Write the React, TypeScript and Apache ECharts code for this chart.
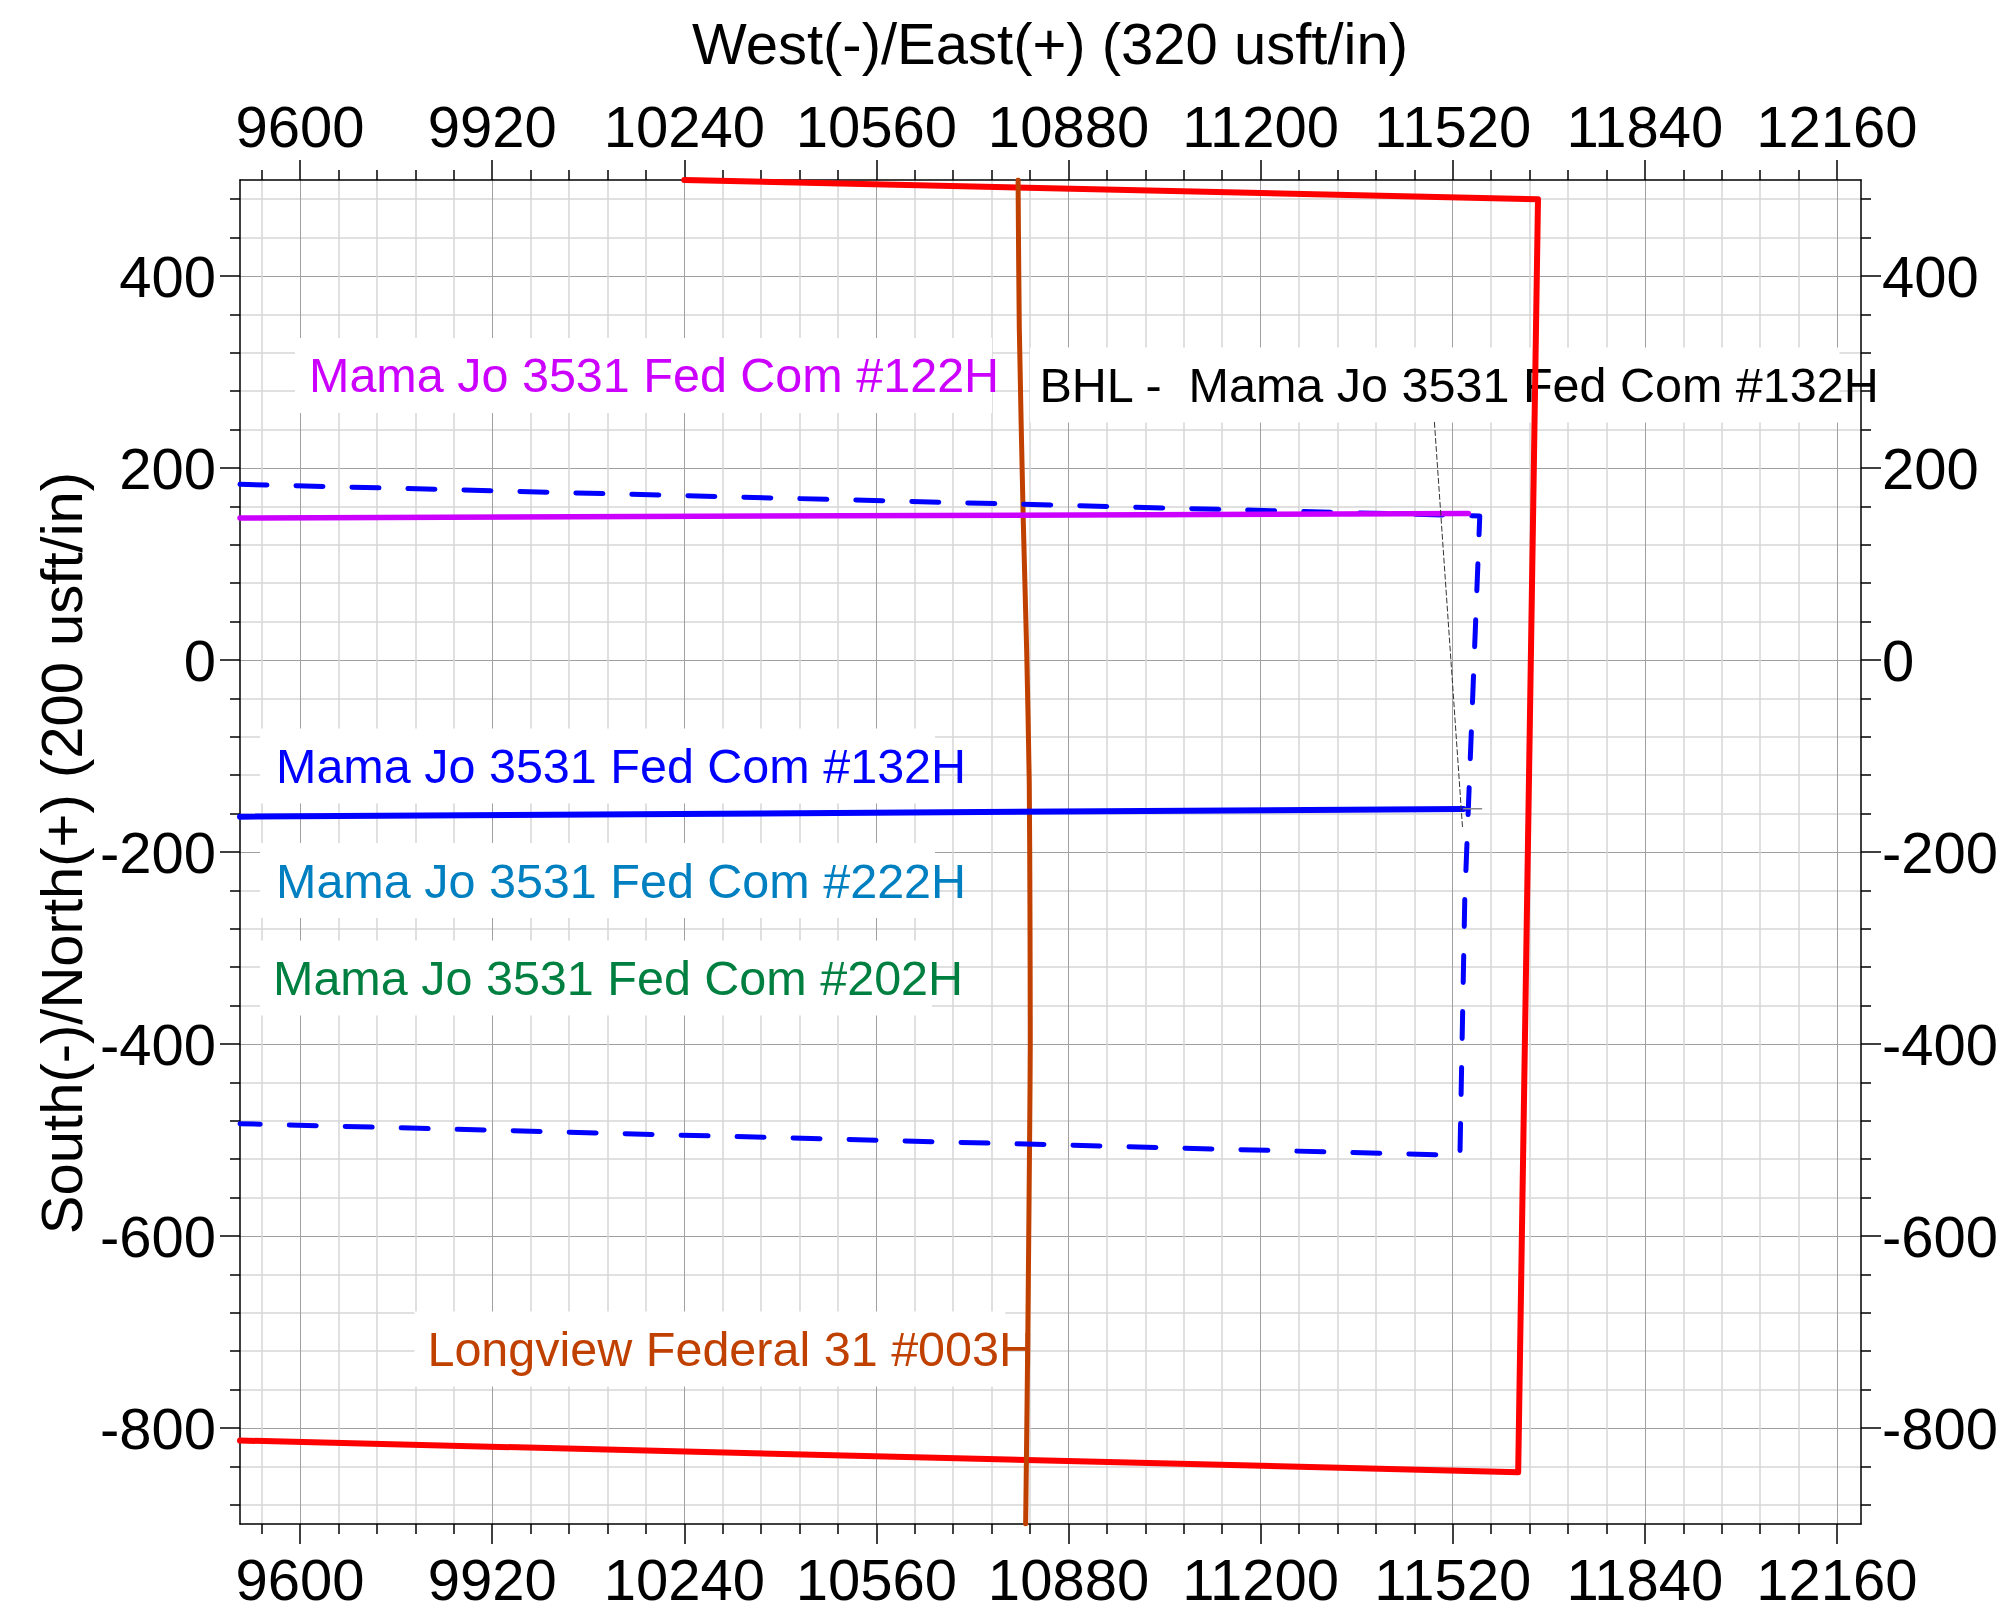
import React, { useEffect, useRef } from 'react';
import * as echarts from 'echarts';

// ---------- axis extents and ticks ----------
const X_MIN = 9500;
const X_MAX = 12200;
const Y_MIN = -900;
const Y_MAX = 500;
const xTickValues = [9600, 9920, 10240, 10560, 10880, 11200, 11520, 11840, 12160];
const yTickValues = [-800, -600, -400, -200, 0, 200, 400];
const X_MINOR_STEP = 64;
const Y_MINOR_STEP = 40;

// ---------- series (West/East, South/North) ----------
const leaseBoundary = [[10240, 500], [11662, 480], [11629, -846], [9500, -813]];
const unitBoundary = [[9500, 183], [11565, 150], [11540, -250], [11532, -516], [9500, -483]];
const well122H = [[9500, 147.9], [11546, 152.6]];
const well132H = [[9500, -163.2], [11538, -155.2]];
const longview003H = [
  [10796, 500], [10798, 347], [10804.6, 146], [10810.3, 10], [10814.6, -127],
  [10815.8, -263], [10816.3, -400], [10815.3, -491], [10812, -718], [10808.6, -900],
];
const bhlLeader = [[11489.5, 247.4], [11536.2, -174]];
const bhlMarker = [[11538, -155], [11568, -155]];

// ---------- annotation labels ----------
const labelTexts = [
  'Mama Jo 3531 Fed Com #122H',
  'BHL -  Mama Jo 3531 Fed Com #132H',
  'Mama Jo 3531 Fed Com #132H',
  'Mama Jo 3531 Fed Com #222H',
  'Mama Jo 3531 Fed Com #202H',
  'Longview Federal 31 #003H',
];
const labelAnchors = [
  [9591.6, 296.4],
  [10815.8, 286.5],
  [9533.3, -110.4],
  [9533.3, -229.7],
  [9533.3, -331.3],
  [9790.5, -717.7],
];

// styles
const labelColors = ['#CC00FF', '#000000', '#0000FF', '#0080C0', '#008040', '#C04000'];
const labelBoxWidths = [683, 800, 659, 659, 659, 578];
const labelPadLeft = [14, 9.5, 16, 16, 13, 13];

const FONT = "'Liberation Sans', Arial, Helvetica, sans-serif";

function minorTicks(min: number, max: number, step: number, majors: number[]) {
  const out: number[] = [];
  const start = Math.ceil(min / step);
  const end = Math.floor(max / step);
  for (let k = start; k <= end; k++) {
    const v = k * step;
    if (majors.indexOf(v) < 0) out.push(v);
  }
  return out;
}

const fmt = (v: number) => String(v);

function makeAxes(dim: 'x' | 'y') {
  const isX = dim === 'x';
  const min = isX ? X_MIN : Y_MIN;
  const max = isX ? X_MAX : Y_MAX;
  const majors = isX ? xTickValues : yTickValues;
  const minors = minorTicks(min, max, isX ? X_MINOR_STEP : Y_MINOR_STEP, majors);
  const pos1 = isX ? 'bottom' : 'left';
  const pos2 = isX ? 'top' : 'right';
  const labelStyle = {
    fontSize: 58,
    lineHeight: 58,
    fontFamily: FONT,
    color: '#000',
    formatter: fmt,
    customValues: majors,
  };
  const minorAxis = (position: string, grid: boolean) => ({
    type: 'value',
    gridIndex: 0,
    position,
    min,
    max,
    axisLine: { show: false, onZero: false },
    axisTick: { show: true, customValues: minors, length: 10, lineStyle: { color: '#000', width: 1.5 } },
    axisLabel: { show: false },
    splitLine: { show: grid, lineStyle: { color: '#d6d6d6', width: 1.5 } },
  });
  const majorAxis = (position: string, grid: boolean, margin: number) => ({
    type: 'value',
    gridIndex: 0,
    position,
    min,
    max,
    axisLine: { show: true, onZero: false, lineStyle: { color: '#000', width: 1.5 } },
    axisTick: { show: true, customValues: majors, length: 20, lineStyle: { color: '#000', width: 1.5 } },
    axisLabel: { show: true, margin, ...labelStyle },
    splitLine: { show: grid, lineStyle: { color: '#a0a0a0', width: 1 } },
  });
  return [
    minorAxis(pos1, true),
    minorAxis(pos2, false),
    majorAxis(pos1, true, isX ? 26 : 24),
    majorAxis(pos2, false, isX ? 25 : 21),
  ];
}

function lineSeries(data: number[][], color: string, width: number, type: any = 'solid', extra: any = {}) {
  return {
    type: 'line',
    xAxisIndex: 2,
    yAxisIndex: 2,
    data,
    showSymbol: false,
    symbol: 'none',
    clip: true,
    silent: true,
    z: 2,
    lineStyle: { color, width, type, cap: 'round', join: 'round', opacity: 1 },
    ...extra,
  };
}

export default function App() {
  const ref = useRef<HTMLDivElement>(null);

  useEffect(() => {
    if (!ref.current) return;
    const chart = echarts.init(ref.current, undefined, { renderer: 'svg' });

    const labelData = labelAnchors.map((p, i) => ({
      name: labelTexts[i],
      value: p,
      label: {
        color: labelColors[i],
        padding: [13, 0, 12, labelPadLeft[i]],
        width: labelBoxWidths[i],
      },
    }));

    const option: any = {
      animation: false,
      backgroundColor: '#fff',
      grid: {
        left: 240,
        top: 180,
        width: 1621,
        height: 1344,
        containLabel: false,
        outerBoundsMode: 'none',
      },
      xAxis: makeAxes('x'),
      yAxis: makeAxes('y'),
      graphic: [
        {
          type: 'text',
          x: 1050,
          y: 43,
          style: {
            text: 'West(-)/East(+) (320 usft/in)',
            fontSize: 58,
            fontFamily: FONT,
            fill: '#000',
            align: 'center',
            verticalAlign: 'middle',
          },
        },
        {
          type: 'text',
          x: 61,
          y: 853,
          rotation: Math.PI / 2,
          style: {
            text: 'South(-)/North(+) (200 usft/in)',
            fontSize: 58,
            fontFamily: FONT,
            fill: '#000',
            align: 'center',
            verticalAlign: 'middle',
          },
        },
      ],
      series: [
        {
          type: 'scatter',
          xAxisIndex: 2,
          yAxisIndex: 2,
          z: 1,
          silent: true,
          symbolSize: 0,
          itemStyle: { color: 'rgba(0,0,0,0)', opacity: 1 },
          data: labelData,
          label: {
            show: true,
            position: 'right',
            distance: 0,
            formatter: '{b}',
            fontSize: 48.5,
            lineHeight: 50,
            fontFamily: FONT,
            backgroundColor: '#ffffff',
            overflow: 'none',
            align: 'left',
            opacity: 1,
          },
        },
        lineSeries(leaseBoundary, '#FF0000', 6),
        lineSeries(longview003H, '#C04000', 5, 'solid', { smooth: 0.2 }),
        lineSeries(unitBoundary, '#0000FF', 5, [27, 29]),
        lineSeries(well122H, '#CC00FF', 5.5),
        lineSeries(well132H, '#0000FF', 6),
        lineSeries(bhlLeader, '#333333', 1, [5, 3]),
        lineSeries(bhlMarker, '#888888', 1.5),
      ],
    };

    chart.setOption(option);
    return () => chart.dispose();
  }, []);

  return (
    <div
      ref={ref}
      style={{ position: 'fixed', left: 0, top: 0, width: 1998, height: 1621, background: '#fff' }}
    />
  );
}
